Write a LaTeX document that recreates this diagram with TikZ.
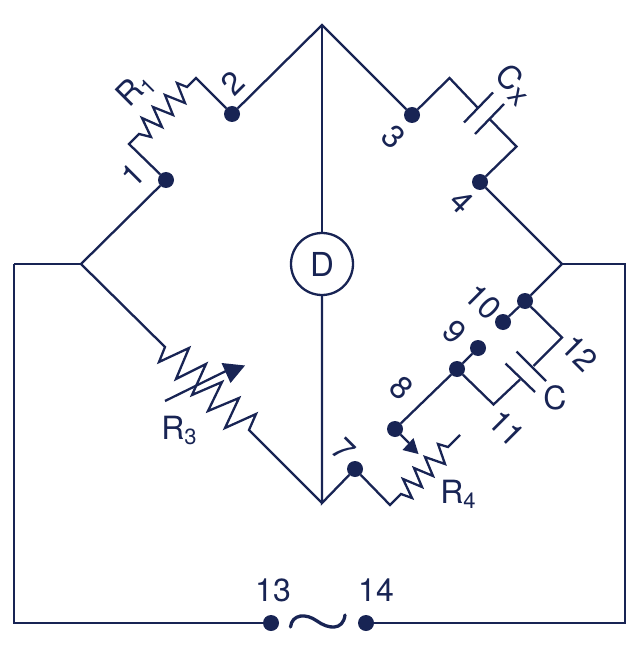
\documentclass[tikz,border=0pt]{standalone}
\usepackage{fontspec}
\setmainfont{TeX Gyre Heros}
\definecolor{navy}{RGB}{24,36,84}
\newcommand{\lsub}[1]{\raisebox{-5pt}{\fontsize{22}{22}\selectfont #1}}
\tikzset{
	wire/.style={draw=navy, line width=2.3pt, line join=miter},
	term/.style={circle, fill=navy, draw=none, inner sep=0pt, minimum size=16pt},
	lab/.style={text=navy, font=\fontsize{32}{32}\selectfont, inner sep=0pt},
	labl/.style={lab, rotate=45},
	labr/.style={lab, rotate=-45},
	tip/.style={fill=navy, draw=none}
}
\begin{document}
\begin{tikzpicture}[x=1pt, y=-1pt]
	\useasboundingbox (0,0) rectangle (638,652);
	
	% bridge corners
	\coordinate (top) at (322,25);
	\coordinate (left) at (81,264);
	\coordinate (bot) at (322,503);
	\coordinate (right) at (562,264);
	\coordinate (ol) at (14,264);
	\coordinate (oll) at (14,623);
	\coordinate (or) at (625,264);
	\coordinate (orr) at (625,623);
	
	% terminals
	\node[term] (t1) at (166,180) {};
	\node[term] (t2) at (232,114) {};
	\node[term] (t3) at (412,115) {};
	\node[term] (t4) at (480,182) {};
	\node[term] (t7) at (355,469) {};
	\node[term] (t8) at (395,429) {};
	\node[term] (t9) at (478,348) {};
	\node[term] (t10) at (503,322) {};
	\node[term] (j9) at (457,369) {};
	\node[term] (j10) at (525,301) {};
	\node[term] (t13) at (271,623) {};
	\node[term] (t14) at (366,623) {};
	\node[circle, draw=navy, line width=2.3pt, minimum size=62pt, inner sep=0pt, text=navy, font=\fontsize{33}{33}\selectfont] (det) at (322,264) {D};
	
	% bridge arms
	\draw[wire] (t2) -- (top) -- (t3);
	\draw[wire] (left) -- (t1);
	\draw[wire] (t4) -- (right) -- (j10) -- (t10);
	\draw[wire] (top) -- (det);
	\draw[wire] (det) -- (bot) -- (t7);
	\draw[wire] (ol) -- (left);
	\draw[wire] (right) -- (or) -- (orr) -- (t14);
	\draw[wire] (t13) -- (oll) -- (ol);
	\draw[wire] (t8) -- (j9) -- (t9);
	
	% R1
	\draw[wire] (t1) -- (129,144) -- (139,134) -- (151,137) -- (142,118) -- (162,127) -- (153,107) -- (173,115) -- (165,95) -- (185,103) -- (177,83) -- (187,87) -- (196,78) -- (t2);
	% Cx
	\coordinate (cx1) at (477.5,107.5);
	\coordinate (cx2) at (490,119.5);
	\draw[wire] (t3) -- (449.5,78) -- (cx1);
	\draw[wire] (464,122.5) -- (493,92.5);
	\draw[wire] (475,134) -- (504,104);
	\draw[wire] (cx2) -- (516.5,146.5) -- (t4);
	% C
	\coordinate (c1) at (533.5,366);
	\coordinate (c2) at (520,379.5);
	\draw[wire] (j10) -- (562,337.5) -- (c1);
	\draw[wire] (516.5,351.5) -- (546,381);
	\draw[wire] (505.5,363.5) -- (535,392);
	\draw[wire] (c2) -- (493.5,404.5) -- (j9);
	% R4
	\draw[wire] (t7) -- (390,505) -- (401,494) -- (412,498) -- (403,479) -- (422,487) -- (414,468) -- (433,476) -- (425,457) -- (445,464) -- (438,444) -- (448,447) -- (460,435);
	\draw[wire] (t8) -- (409,443);
	\fill[tip] (413.5,438) -- (402.5,450) -- (418.5,454) -- cycle;
	% R3
	\draw[wire] (left) -- (165,347) -- (159,362) -- (189,348) -- (176,379) -- (206,364) -- (192,395) -- (222,382) -- (208,411) -- (239,398) -- (225,428) -- (256,414) -- (249,430) -- (bot);
	\draw[wire] (165,401) -- (228,370);
	\fill[tip] (221.5,363) -- (245,365.5) -- (230.5,383) -- cycle;
	% source
	\draw[draw=navy, line width=3.3pt, line cap=round] (290.5,627) .. controls (292,614) and (306,613) .. (317,621) .. controls (328,629) and (343,631) .. (345,615);
	
	% labels
	\node[labl] (l1) at (133,175) {1};
	\node[labl] (l2) at (233,83) {2};
	\node[labl] (lr1) at (136,90) {R\lsub{1}};
	\node[labr] (l3) at (394,137) {3};
	\node[labr] (l4) at (462,202) {4};
	\node[labr] (lcx) at (514,84) {C\raisebox{-5pt}{\fontsize{30}{30}\selectfont x}};
	\node[labr] (l7) at (344,450) {7};
	\node[labr] (l8) at (402,388) {8};
	\node[labr] (l9) at (455,332) {9};
	\node[labr] (l10) at (483,302) {10};
	\node[labr] (l11) at (507,428) {11};
	\node[labr] (l12) at (580,353) {12};
	\node[lab] (lc) at (555,398) {C};
	\node[lab] (lr3) at (179,430) {R\lsub{3}};
	\node[lab] (lr4) at (458,494) {R\lsub{4}};
	\node[lab] (l13) at (273,590) {13};
	\node[lab] (l14) at (376,590) {14};
\end{tikzpicture}
\end{document}
